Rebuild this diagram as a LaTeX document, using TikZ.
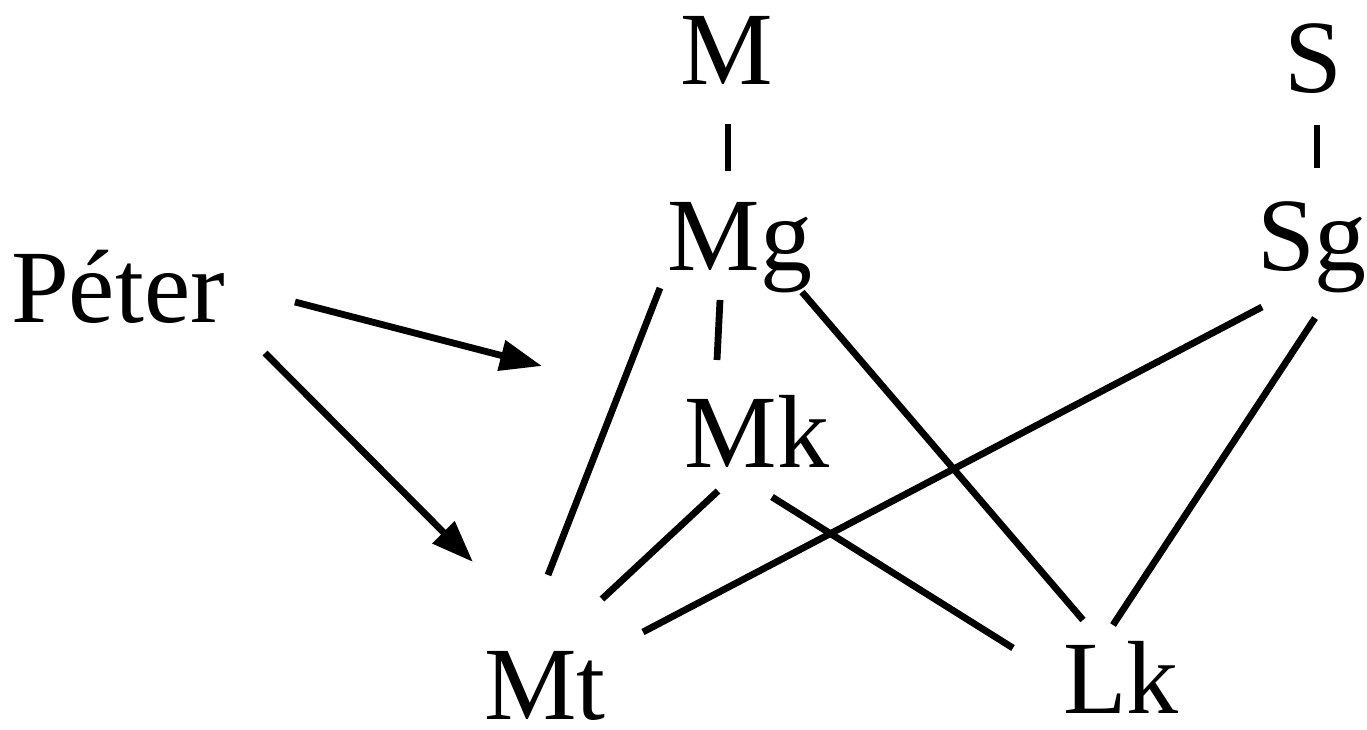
\documentclass[tikz,border=0pt]{standalone}
\usepackage{fontspec}
\setmainfont{Liberation Serif}
\usetikzlibrary{arrows.meta}
\tikzset{
  lbl/.style={anchor=base, inner sep=0pt, font=\fontsize{104}{110}\selectfont},
  edge/.style={line width=6.8pt, black},
  arr/.style={edge, -{Triangle[length=42pt,width=30pt]}}
}
\begin{document}
\begin{tikzpicture}[x=1pt,y=-1pt]
\useasboundingbox (0,0) rectangle (1367,730);
\fill[white] (0,0) rectangle (1367,730);
% nodes (placed at their baselines)
\node[lbl] (M)  at (727,85)  {M};
\node[lbl] (S)  at (1313,93) {S};
\node[lbl] (Mg) at (740,270) {Mg};
\node[lbl] (Sg) at (1312,270) {Sg};
\node[lbl] (P)  at (118,322) {Péter};
\node[lbl] (Mk) at (757,467) {Mk};
\node[lbl] (Mt) at (545,719) {Mt};
\node[lbl] (Lk) at (1121,713) {Lk};
% connectors
\draw[edge] ([shift={(1,39)}]M.base)    -- ([shift={(-12,-99)}]Mg.base);
\draw[edge] ([shift={(4,32)}]S.base)    -- ([shift={(5,-102)}]Sg.base);
\draw[edge] ([shift={(-20,30)}]Mg.base) -- ([shift={(-40,-107)}]Mk.base);
\draw[edge] ([shift={(-80,18)}]Mg.base) -- ([shift={(3,-144)}]Mt.base);
\draw[edge] ([shift={(62,22)}]Mg.base)  -- ([shift={(-38,-93)}]Lk.base);
\draw[edge] ([shift={(-50,37)}]Sg.base) -- ([shift={(98,-87)}]Mt.base);
\draw[edge] ([shift={(3,48)}]Sg.base)   -- ([shift={(-8,-88)}]Lk.base);
\draw[edge] ([shift={(-39,24)}]Mk.base) -- ([shift={(57,-120)}]Mt.base);
\draw[edge] ([shift={(15,30)}]Mk.base)  -- ([shift={(-108,-65)}]Lk.base);
\draw[arr]  ([shift={(177,-20)}]P.base) -- ([shift={(-215,-101)}]Mk.base);
\draw[arr]  ([shift={(147,31)}]P.base)  -- ([shift={(-72,-157)}]Mt.base);
\end{tikzpicture}
\end{document}
